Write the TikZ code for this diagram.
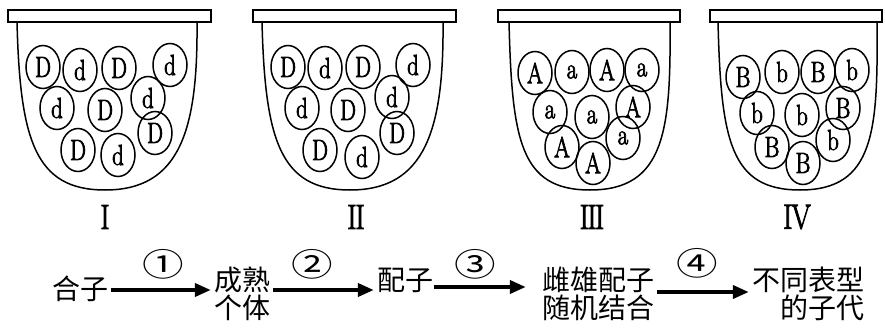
\documentclass[tikz,border=0pt]{standalone}
\usepackage{fontspec}
\newfontfamily\cjk{Noto Sans CJK SC}
\newfontfamily\cjkn[FakeStretch=1.3]{Noto Sans CJK SC}
\newfontfamily\lat[FakeBold=2.5,FakeStretch=0.78]{Latin Modern Roman}
\newfontfamily\romfont[FakeBold=2.5,FakeStretch=0.8]{Latin Modern Roman}
\usetikzlibrary{shapes.geometric,arrows.meta}

% one cup: lid from #1 to #2, body opening from #3 to #4, lowest point at #5
\newcommand\drawcup[5]{%
  \draw[lid] (#1,10) rectangle (#2,22);
  \draw[cupline] (#3,22) .. controls (#3+3,140) and (#5-70,190) .. (#5,190)
                        .. controls (#5+75,190) and (#4+1,130) .. (#4,22);
}

\tikzset{
  lid/.style={line width=1.8pt},
  cupline/.style={line width=1.5pt},
  gene/.style={ellipse, draw, line width=1.5pt, minimum width=34pt,
               minimum height=43pt, inner sep=0pt,
               font=\lat\fontsize{29}{29}\selectfont},
  roman/.style={font=\romfont\fontsize{35}{35}\selectfont},
  cn/.style={inner sep=3pt, font=\cjk\fontsize{28}{28}\selectfont},
  num/.style={inner sep=0pt, font=\cjkn\fontsize{32}{32}\selectfont},
  flow/.style={line width=3.8pt, -{Triangle[length=16pt,width=13pt]}},
}

\begin{document}
\begin{tikzpicture}[x=1pt,y=-1pt]
\useasboundingbox (0,0) rectangle (885,329);

% the four cups
\drawcup{8}{211}{17}{197}{105}
\drawcup{253}{456}{262}{443}{350}
\drawcup{498}{680}{509}{670}{590}
\drawcup{710}{882}{718}{877}{800}

% balls in cup I
\foreach [count=\i] \px/\py/\t in {43/67/D,80/70/d,119/68/D,170/65/d,
    57/108/d,105/110/D,148/98/d,155/133/D,78/150/D,118/155/d}
  \node[gene] (p1-\i) at (\px,\py) {\t};

% balls in cup II
\foreach [count=\i] \px/\py/\t in {288/67/D,325/68/d,363/67/D,413/65/d,
    302/108/d,348/110/D,392/97/d,397/133/D,320/150/D,362/157/d}
  \node[gene] (p2-\i) at (\px,\py) {\t};

% balls in cup III
\foreach [count=\i] \px/\py/\t in {535/73/A,572/72/a,607/70/A,642/70/a,
    550/112/a,592/117/a,633/107/A,623/138/a,562/147/A,593/163/A}
  \node[gene] (p3-\i) at (\px,\py) {\t};

% balls in cup IV
\foreach [count=\i] \px/\py/\t in {743/77/B,782/72/b,818/72/B,852/70/b,
    757/113/b,802/115/b,843/108/B,833/140/b,772/147/B,803/163/B}
  \node[gene] (p4-\i) at (\px,\py) {\t};

% cup labels
\node[roman] (r1) at (105,217) {I};
\node[roman] (r2) at (356,217) {I\kern-1ptI};
\node[roman] (r3) at (592,217) {I\kern-1.5ptI\kern-1.5ptI};
\node[roman] (r4) at (797,217) {I\kern-1ptV};

% process chain
\node[cn] (hz) at (80,289) {合子};
\node[cn, align=center] (cs) at (242,294) {成熟\\个体};
\node[cn] (pz) at (405,280) {配子};
\node[cn, align=center] (cx) at (598,294) {雌雄配子\\随机结合};
\node[cn, align=right] (dz) at (808,294) {不同表型\\的子代};

\coordinate (lv1) at (0,290);
\coordinate (lv3) at (0,287);
\coordinate (lv4) at (0,292);

\draw[flow] (hz.east |- lv1) -- (cs.west |- lv1);
\draw[flow] (cs.east |- lv1) -- (pz.west |- lv1);
\draw[flow, shorten <=-2pt, shorten >=13pt] (pz.east |- lv3) -- (cx.west |- lv3);
\draw[flow] (cx.east |- lv4) -- (dz.west |- lv4);

\node[num] (n1) at (163,264) {①};
\node[num] (n2) at (312,264) {②};
\node[num] (n3) at (475,264) {③};
\node[num] (n4) at (697,263) {④};
\end{tikzpicture}
\end{document}
